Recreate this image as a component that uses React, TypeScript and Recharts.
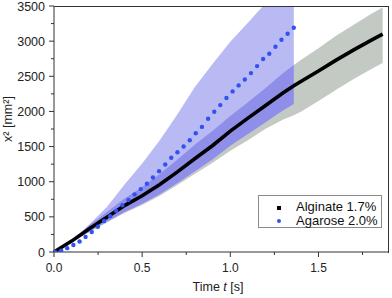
import React from 'react';
import {
  ComposedChart, Area, Line, Scatter, XAxis, YAxis,
} from 'recharts';

// time grid for the bands and the alginate curve [s]
const tGrid = [0, 0.1, 0.2, 0.3, 0.4, 0.5, 0.6, 0.7, 0.8, 0.9, 1.0, 1.1, 1.2, 1.3, 1.36, 1.4, 1.5, 1.6, 1.7, 1.8, 1.864];

// Alginate 1.7% mean and spread [mm²]
const alginateMean = [0, 155, 330, 495, 660, 800, 960, 1140, 1330, 1515, 1720, 1905, 2085, 2265, 2365, 2425, 2575, 2730, 2875, 3015, 3100];
const alginateHigh = [0, 175, 380, 570, 760, 925, 1110, 1315, 1530, 1725, 1935, 2130, 2335, 2545, 2660, 2730, 2900, 3075, 3235, 3390, 3480];
const alginateLow = [0, 135, 280, 420, 555, 670, 800, 955, 1115, 1270, 1440, 1590, 1755, 1885, 1945, 1995, 2150, 2310, 2460, 2605, 2690];

// Agarose 2.0% spread (ends at 1.36 s)
const agaroseHigh = [0, 150, 390, 640, 960, 1260, 1590, 1960, 2350, 2680, 2990, 3260, 3540, 3800, 3950];
const agaroseLow = [0, 140, 290, 430, 570, 685, 820, 980, 1150, 1320, 1510, 1680, 1845, 2015, 2105];

// Agarose 2.0% mean points
const agaroseT = [0.006, 0.041, 0.075, 0.110, 0.145, 0.179, 0.214, 0.249, 0.284, 0.318, 0.353, 0.388, 0.422, 0.457, 0.492, 0.527, 0.561, 0.596, 0.631, 0.665, 0.700, 0.735, 0.770, 0.804, 0.839, 0.874, 0.909, 0.943, 0.978, 1.013, 1.047, 1.082, 1.117, 1.152, 1.186, 1.221, 1.256, 1.290, 1.325, 1.360];
const agaroseMean = [0, 20, 55, 100, 150, 215, 285, 360, 440, 510, 585, 665, 740, 820, 895, 970, 1060, 1150, 1245, 1340, 1420, 1500, 1590, 1690, 1780, 1895, 1995, 2090, 2190, 2285, 2370, 2455, 2545, 2645, 2745, 2820, 2920, 3020, 3105, 3190];

const xTicks = [0, 0.25, 0.5, 0.75, 1.0, 1.25, 1.5, 1.75];
const yTicks = [0, 250, 500, 750, 1000, 1250, 1500, 1750, 2000, 2250, 2500, 2750, 3000, 3250, 3500];

const FONT = '"Liberation Sans", Arial, sans-serif';
const AXIS = '#333';

const table = tGrid.map((t, i) => {
  const row: any = { t, mean: alginateMean[i], grey: [alginateLow[i], alginateHigh[i]] };
  if (i < agaroseHigh.length) {
    row.blue = [agaroseLow[i], agaroseHigh[i]];
    row.overlap = [
      Math.max(agaroseLow[i], alginateLow[i]),
      Math.min(agaroseHigh[i], alginateHigh[i]),
    ];
  }
  return row;
});

const dots = agaroseT.map((t, i) => ({ t, v: agaroseMean[i] }));

const XTick = (props: any) => {
  const { x, y, payload } = props;
  const major = Math.abs((payload.value * 2) % 1) < 1e-6;
  return (
    <g>
      <line x1={x} y1={y} x2={x} y2={y + (major ? 5 : 3)} stroke={AXIS} />
      {major && (
        <text x={x} y={y + 20} textAnchor="middle" fontSize={12} fill="#222" fontFamily={FONT}>
          {payload.value.toFixed(1)}
        </text>
      )}
    </g>
  );
};

const YTick = (props: any) => {
  const { x, y, payload } = props;
  const major = payload.value % 500 === 0;
  return (
    <g>
      <line x1={x - (major ? 5 : 3)} y1={y} x2={x} y2={y} stroke={AXIS} />
      {major && (
        <text x={x - 9} y={y} dy="0.36em" textAnchor="end" fontSize={12.5} fill="#222" fontFamily={FONT}>
          {payload.value}
        </text>
      )}
    </g>
  );
};

export default function App() {
  return (
    <div style={{ position: 'absolute', left: 0, top: 0, width: 392, height: 298, background: '#fff' }}>
      <ComposedChart width={392} height={298} data={table} margin={{ top: 6, right: 3, bottom: 0, left: 0 }}>
        <XAxis
          dataKey="t" type="number" domain={[0, 1.9]} ticks={xTicks} interval={0}
          height={46} tickSize={0} tickMargin={0} tickLine={false}
          axisLine={{ stroke: AXIS }} tick={<XTick />}
        />
        <YAxis
          type="number" domain={[0, 3500]} ticks={yTicks} interval={0} allowDataOverflow
          width={54} tickSize={0} tickMargin={0} tickLine={false}
          axisLine={{ stroke: AXIS }} tick={<YTick />}
        />
        <Area dataKey="grey" type="linear" stroke="none" fill="#c3c9c3" fillOpacity={1} isAnimationActive={false} />
        <Area dataKey="blue" type="linear" stroke="none" fill="#b9b9f4" fillOpacity={1} isAnimationActive={false} />
        <Area dataKey="overlap" type="linear" stroke="none" fill="#8f8fea" fillOpacity={1} isAnimationActive={false} />
        <Line dataKey="mean" type="linear" stroke="#000" strokeWidth={3.6} dot={false} isAnimationActive={false} />
        <Scatter
          data={dots} dataKey="v" fill="#2f52f2" isAnimationActive={false}
          shape={(p: any) => <circle cx={p.cx} cy={p.cy} r={2.2} fill="#2f52f2" />}
        />
        <text x={218} y={291} textAnchor="middle" fontSize={12.5} fill="#222" fontFamily={FONT}>
          Time <tspan fontStyle="italic">t</tspan> [s]
        </text>
        <text
          x={12} y={119} textAnchor="middle" fontSize={12.5} fill="#222" fontFamily={FONT}
          transform="rotate(-90 12 119)"
        >
          x² [mm²]
        </text>
      </ComposedChart>
      {/* top and right edges of the plot frame */}
      <div
        style={{
          position: 'absolute', left: 54, top: 5.5, width: 335, height: 247,
          borderTop: `1px solid ${AXIS}`, borderRight: `1px solid ${AXIS}`,
          boxSizing: 'border-box', pointerEvents: 'none',
        }}
      />
      <div
        style={{
          position: 'absolute', left: 258, top: 195, width: 124, height: 33,
          border: '1px solid #8a8a8a', boxSizing: 'border-box', background: '#fff',
          fontFamily: FONT, fontSize: 13, color: '#111', lineHeight: '14px',
        }}
      >
        <div style={{ position: 'absolute', left: 18, top: 10, width: 4, height: 4, background: '#000' }} />
        <div style={{ position: 'absolute', left: 37, top: 4 }}>Alginate 1.7%</div>
        <div style={{ position: 'absolute', left: 18, top: 23, width: 4, height: 4, borderRadius: 2, background: '#2f52f2' }} />
        <div style={{ position: 'absolute', left: 37, top: 18 }}>Agarose 2.0%</div>
      </div>
    </div>
  );
}
